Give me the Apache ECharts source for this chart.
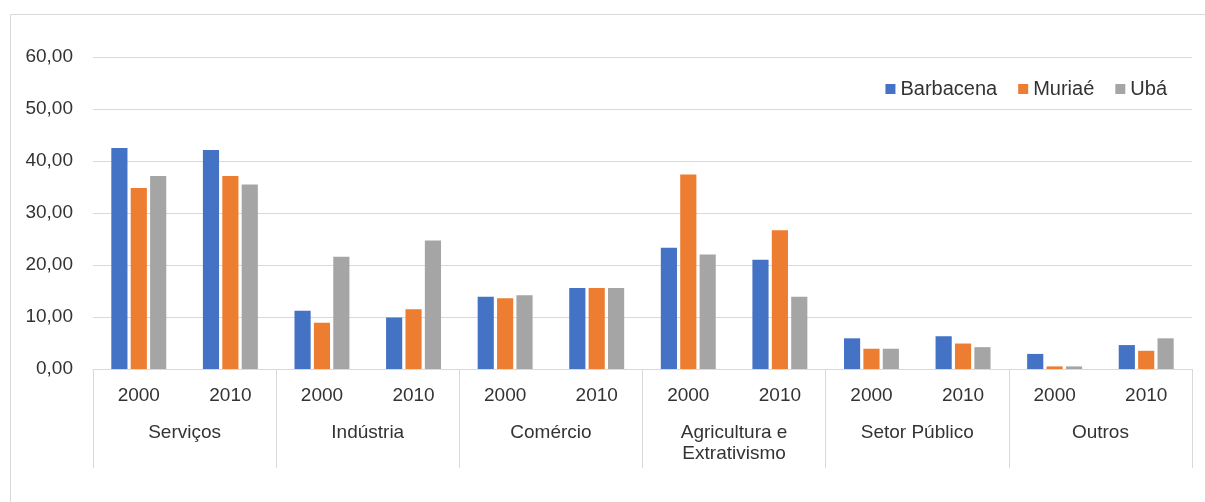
<!DOCTYPE html>
<html>
<head>
<meta charset="utf-8">
<script src="https://cdn.jsdelivr.net/npm/echarts@6/dist/echarts.min.js"></script>
<style>
html,body{margin:0;padding:0;background:#fff;}
#chart{width:1205px;height:502px;}
</style>
</head>
<body>
<div id="chart"></div>
<script>
const years = ['2000','2010','2000','2010','2000','2010','2000','2010','2000','2010','2000','2010'];
const groups = ['Serviços','Indústria','Comércio','Agricultura e\nExtrativismo','Setor Público','Outros'];
const seriesNames = ['Barbacena','Muriaé','Ubá'];
const barbacena = [42.5, 42.1, 11.2, 9.9, 13.9, 15.6, 23.3, 21.0, 5.9, 6.3, 2.9, 4.6];
const muriae = [34.8, 37.1, 8.9, 11.5, 13.6, 15.6, 37.4, 26.7, 3.9, 4.9, 0.5, 3.5];
const uba = [37.1, 35.5, 21.6, 24.7, 14.2, 15.6, 22.0, 13.9, 3.9, 4.2, 0.5, 5.9];
const colors = ['#4472C4','#ED7D31','#A5A5A5'];
const yTicks = [0, 10, 20, 30, 40, 50, 60];

const font = 'Liberation Sans, Arial, sans-serif';
const textColor = '#333333';
const lineColor = '#D9D9D9';

const chart = echarts.init(document.getElementById('chart'));
const dataSets = [barbacena, muriae, uba];
chart.setOption({
  animation: false,
  color: colors,
  graphic: [{
    type: 'rect', left: 8, top: 12, silent: true,
    shape: {x: 0, y: 0, width: 1210, height: 500},
    style: {fill: 'none', stroke: lineColor, lineWidth: 1}
  }],
  legend: {
    data: seriesNames,
    right: 33, top: 74,
    itemWidth: 10, itemHeight: 10, itemGap: 21,
    icon: 'rect',
    textStyle: {fontFamily: font, fontSize: 20, color: textColor}
  },
  grid: {left: 93, right: 13, top: 57, bottom: 133, containLabel: false},
  xAxis: [{
    type: 'category',
    data: years,
    position: 'bottom',
    axisLine: {show: true, lineStyle: {color: lineColor, width: 1}},
    axisTick: {show: false},
    axisLabel: {interval: 0, margin: 17, fontFamily: font, fontSize: 19, color: textColor}
  }, {
    type: 'category',
    data: groups,
    position: 'bottom',
    offset: 0,
    axisLine: {show: false},
    axisTick: {show: true, interval: 0, length: 99, lineStyle: {color: lineColor, width: 1}},
    axisLabel: {interval: 0, margin: 53, fontFamily: font, fontSize: 19, color: textColor, lineHeight: 21}
  }],
  yAxis: {
    type: 'value',
    min: yTicks[0], max: yTicks[yTicks.length - 1], interval: 10,
    axisLine: {show: false},
    axisTick: {show: false},
    splitLine: {lineStyle: {color: lineColor, width: 1}},
    axisLabel: {
      margin: 20, fontFamily: font, fontSize: 19, color: textColor,
      formatter: v => v.toFixed(2).replace('.', ',')
    }
  },
  series: seriesNames.map((name, i) => ({
    name: name,
    type: 'bar',
    xAxisIndex: 0,
    data: dataSets[i],
    barCategoryGap: '40%',
    barGap: '20%',
    itemStyle: {color: colors[i]}
  }))
});
</script>
</body>
</html>
